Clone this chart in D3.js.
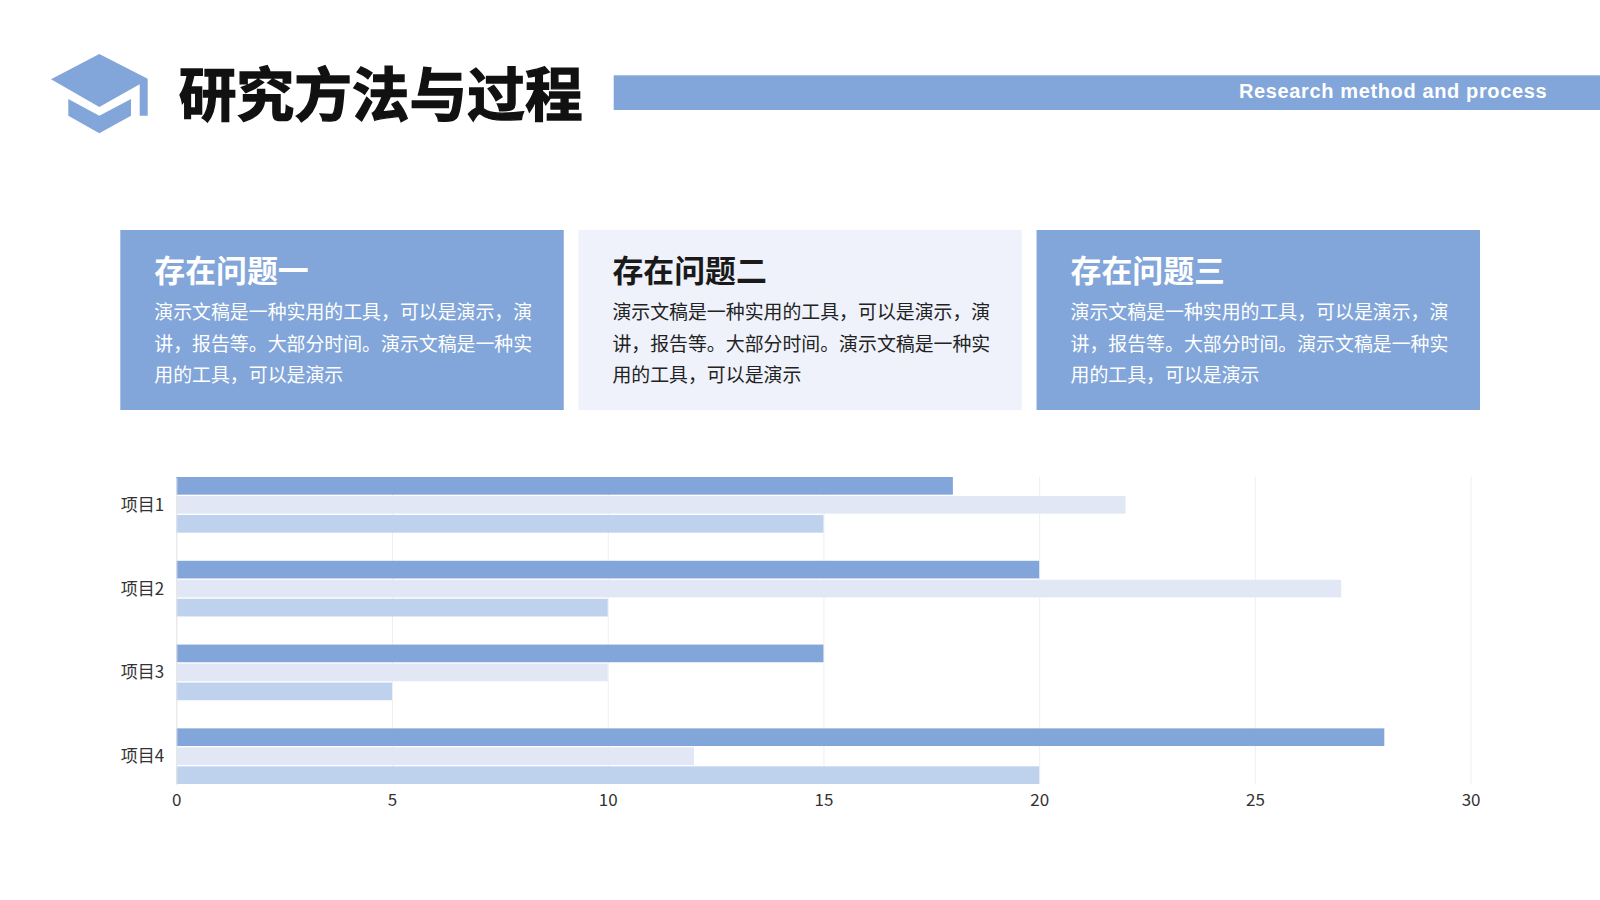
<!DOCTYPE html>
<html>
  <head>
    <meta charset="utf-8">
    <title>研究方法与过程</title>
    <script src="https://d3js.org/d3.v7.min.js"></script>
    <style>
      html,body{margin:0;padding:0;background:#fff;overflow:hidden}
      svg{display:block}
      text{font-family:"Noto Sans CJK SC",sans-serif}
    </style>
  </head>
  <body>
  <script type="text/javascript">
    var categories = ['项目1','项目2','项目3','项目4'];
    var series1 = [18,20,15,28];
    var series2 = [22,27,10,12];
    var series3 = [15,10,5,20];
    var xTicks = [0,5,10,15,20,25,30];

    var pageTitle = '研究方法与过程';
    var pageSubtitle = 'Research method and process';
    var cardTitles = ['存在问题一','存在问题二','存在问题三'];
    var cardLines = ['演示文稿是一种实用的工具，可以是演示，演','讲，报告等。大部分时间。演示文稿是一种实','用的工具，可以是演示'];

    var blue = '#82a6d9', pale = '#e1e7f4', mid = '#bed1ed', paleCard = '#eff2fb';

    var svg = d3.select('body').append('svg')
                .attr('width',1600)
                .attr('height',900);

    /* header */
    svg.append('path')
       .attr('d','M99.3,54L147.7,78.8V115.7H139.7V84.3L99.3,107L51,79.3Z')
       .attr('fill',blue);
    svg.append('path')
       .attr('d','M68.3,99L99.3,115.7L131,99V115.7L99.3,133.3L68.3,115.7Z')
       .attr('fill',blue);
    svg.append('text')
       .attr('x',178.8).attr('y',115.5)
       .attr('font-size',57.7)
       .attr('font-weight',700)
       .attr('fill','#111')
       .attr('stroke','#111')
       .attr('stroke-width',1.4)
       .text(pageTitle);
    svg.append('rect')
       .attr('x',613.7).attr('y',75.3)
       .attr('width',986.3).attr('height',34.7)
       .attr('fill',blue);
    svg.append('text')
       .attr('x',1239).attr('y',97.7)
       .attr('font-size',20)
       .attr('font-weight',700)
       .attr('fill','#fff')
       .style('font-family','"Liberation Sans",sans-serif')
       .style('letter-spacing','0.63px')
       .text(pageSubtitle);

    /* cards */
    var cardX = d3.scaleBand().domain(cardTitles).range([120.3,1480]).paddingInner(0.032);
    var cards = svg.selectAll('g.card')
       .data(cardTitles)
       .enter()
       .append('g')
       .attr('class','card')
       .attr('transform',function(d){return 'translate('+cardX(d)+',230)'});
    cards.append('rect')
       .attr('width',cardX.bandwidth())
       .attr('height',180)
       .attr('fill',function(d,i){return i==1 ? paleCard : blue});
    cards.append('text')
       .attr('x',34).attr('y',52.3)
       .attr('font-size',30.9)
       .attr('font-weight',700)
       .attr('fill',function(d,i){return i==1 ? '#1a1a1a' : '#fff'})
       .text(function(d){return d});
    cardLines.forEach(function(line,k){
      cards.append('text')
         .attr('x',34).attr('y',[89,121,152][k])
         .attr('font-size',18.9)
         .attr('font-weight',400)
         .attr('fill',function(d,i){return i==1 ? '#222' : '#fff'})
         .text(line);
    });

    /* bars */
    var x = d3.scaleLinear().domain([0,30]).range([176.3,1470.6]);
    var y = d3.scaleBand().domain(categories).range([477,784]).paddingInner(0.336);
    var seriesList = [series1,series2,series3];
    var colors = [blue,pale,mid];
    var y1 = d3.scaleBand().domain([0,1,2]).range([0,y.bandwidth()]).paddingInner(0.07);

    var chart = svg.append('g');
    var gridAxis = d3.axisBottom(x).tickValues(xTicks).tickSize(-(784-477)).tickFormat('');
    chart.append('g')
       .attr('transform','translate(0,784)')
       .call(gridAxis)
       .call(function(g){g.select('.domain').remove()})
       .selectAll('line')
       .attr('stroke','#efefef');

    seriesList.forEach(function(vals,s){
      chart.append('g')
         .selectAll('rect')
         .data(vals)
         .enter()
         .append('rect')
         .attr('x',x(0))
         .attr('y',function(d,i){return y(categories[i])+y1(s)})
         .attr('width',function(d){return x(d)-x(0)})
         .attr('height',y1.bandwidth())
         .attr('fill',colors[s]);
    });

    var xAxis = d3.axisBottom(x).tickValues(xTicks).tickSize(0).tickPadding(10);
    chart.append('g')
       .attr('transform','translate(0,784)')
       .call(xAxis)
       .call(function(g){g.select('.domain').remove()})
       .selectAll('text')
       .attr('font-size',17)
       .attr('fill','#333')
       .style('font-family','"Noto Sans CJK SC",sans-serif');

    var yAxis = d3.axisLeft(y).tickSize(0).tickPadding(12);
    chart.append('g')
       .attr('transform','translate(176.3,0.6)')
       .call(yAxis)
       .call(function(g){g.select('.domain').attr('stroke','#e6e6e6')})
       .selectAll('text')
       .attr('font-size',17)
       .attr('fill','#333')
       .style('font-family','"Noto Sans CJK SC",sans-serif');
  </script>
  </body>
</html>
